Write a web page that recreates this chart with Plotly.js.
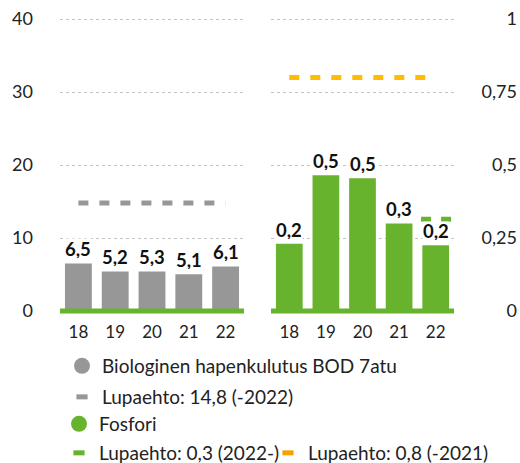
<!DOCTYPE html>
<html>
<head>
<meta charset="utf-8">
<script src="https://cdn.plot.ly/plotly-3.0.1.min.js"></script>
<style>html,body{margin:0;padding:0;background:#fff}#chart{width:520px;height:463px}</style>
</head>
<body>
<div id="chart"></div>
<script>
// ---- data ----
const years = [18, 19, 20, 21, 22];
const yearLabels = ["18", "19", "20", "21", "22"];
const bodValues = [6.5, 5.4, 5.4, 5.05, 6.1];
const bodLabels = ["6,5", "5,2", "5,3", "5,1", "6,1"];
const pValues = [0.23, 0.465, 0.455, 0.30, 0.225];
const pLabels = ["0,2", "0,5", "0,5", "0,3", "0,2"];
const bodLimitX = [18, 22];
const bodLimitY = [14.8, 14.8];
const pLimitOldX = [18, 22];
const pLimitOldY = [0.8, 0.8];
const pLimitNewX = [21.6, 22.45];
const pLimitNewY = [0.314, 0.314];
const leftTicks = [0, 10, 20, 30, 40];
const rightTicks = [0, 0.25, 0.5, 0.75, 1];
const rightTickText = ["0", "0,25", "0,5", "0,75", "1"];
const legendNames = ["Biologinen hapenkulutus BOD 7atu", "Lupaehto: 14,8 (-2022)", "Fosfori", "Lupaehto: 0,3 (2022-)", "Lupaehto: 0,8 (-2021)"];

// ---- styles ----
const GRAY = "#979797";
const GREEN = "#68B32E";
const ORANGE = "#FFBC00";
const ORANGE_LEG = "#F5A300";
const FONT = "Lato, 'Open Sans', sans-serif";
const W = 520, H = 463;

const traces = [
  {type: "bar", x: years, y: bodValues, xaxis: "x", yaxis: "y", marker: {color: GRAY}, width: 0.73, showlegend: false, hoverinfo: "skip"},
  {type: "bar", x: years, y: pValues, xaxis: "x2", yaxis: "y2", marker: {color: GREEN}, width: 0.73, showlegend: false, hoverinfo: "skip"},
  {type: "scatter", mode: "lines", x: bodLimitX, y: bodLimitY, xaxis: "x", yaxis: "y", line: {color: GRAY, width: 5, dash: "10px,11px"}, showlegend: false},
  {type: "scatter", mode: "lines", x: pLimitOldX, y: pLimitOldY, xaxis: "x2", yaxis: "y2", line: {color: ORANGE, width: 5, dash: "10px,11px"}, showlegend: false},
  {type: "scatter", mode: "lines", x: pLimitNewX, y: pLimitNewY, xaxis: "x2", yaxis: "y2", line: {color: GREEN, width: 5, dash: "10px,10px"}, showlegend: false},
  // legend entries
  {type: "scatter", mode: "markers", x: [null], y: [null], name: legendNames[0], legend: "legend", marker: {symbol: "circle", size: 16, color: GRAY}},
  {type: "scatter", mode: "markers", x: [null], y: [null], name: legendNames[1], legend: "legend2", marker: {symbol: "line-ew", size: 8, color: GRAY, line: {color: GRAY, width: 5}}},
  {type: "scatter", mode: "markers", x: [null], y: [null], name: legendNames[2], legend: "legend3", marker: {symbol: "circle", size: 16, color: GREEN}},
  {type: "scatter", mode: "markers", x: [null], y: [null], name: legendNames[3], legend: "legend4", marker: {symbol: "line-ew", size: 8, color: GREEN, line: {color: GREEN, width: 5}}},
  {type: "scatter", mode: "markers", x: [null], y: [null], name: legendNames[4], legend: "legend5", marker: {symbol: "line-ew", size: 8, color: ORANGE_LEG, line: {color: ORANGE_LEG, width: 5}}}
];

const labelFont = {family: FONT, size: 18.5, color: "#111", weight: "bold"};
const annotations = [];
years.forEach((yr, i) => {
  annotations.push({x: yr, y: bodValues[i], xref: "x", yref: "y", text: bodLabels[i], showarrow: false, yanchor: "middle", yshift: 15, bgcolor: "#fff", borderpad: 0, height: 19, valign: "middle", font: labelFont});
  annotations.push({x: yr, y: pValues[i], xref: "x2", yref: "y2", text: pLabels[i], showarrow: false, yanchor: "middle", yshift: 14, bgcolor: "#fff", borderpad: 0, height: 18, valign: "middle", font: labelFont});
});

const yDomain = [137.4 / H, 458.6 / H];
const gridStyle = {showgrid: true, gridcolor: "#c4c4c4", griddash: "dot", gridwidth: 1, zeroline: false, ticks: ""};
const legBase = {orientation: "v", xanchor: "left", yanchor: "middle", bgcolor: "rgba(0,0,0,0)", font: {family: FONT, size: 19, color: "#222"}, itemclick: false, itemdoubleclick: false};

const layout = {
  width: W, height: H,
  margin: {l: 0, r: 0, t: 0, b: 0, autoexpand: false},
  paper_bgcolor: "#fff", plot_bgcolor: "rgba(0,0,0,0)",
  font: {family: FONT, color: "#222"},
  xaxis: {domain: [60 / W, 244 / W], range: [17.5, 22.5], tickvals: years, ticktext: yearLabels, showgrid: false, zeroline: false, ticks: "", tickfont: {size: 17, color: "#222"}, ticklabelstandoff: -6, anchor: "y", fixedrange: true},
  xaxis2: {domain: [271 / W, 454 / W], range: [17.5, 22.5], tickvals: years, ticktext: yearLabels, showgrid: false, zeroline: false, ticks: "", tickfont: {size: 17, color: "#222"}, ticklabelstandoff: -6, anchor: "y2", fixedrange: true},
  yaxis: Object.assign({domain: yDomain, range: [-2, 42], tickvals: leftTicks, ticktext: leftTicks.map(String), anchor: "x", tickfont: {size: 18, color: "#222"}, ticklabelstandoff: 26, fixedrange: true}, gridStyle),
  yaxis2: Object.assign({domain: yDomain, range: [-0.05, 1.05], tickvals: rightTicks, ticktext: rightTickText, anchor: "free", position: 1, side: "right", ticklabelposition: "inside", tickfont: {size: 18, color: "#222"}, fixedrange: true}, gridStyle),
  shapes: [
    {type: "line", xref: "x", yref: "y", x0: 17.25, x1: 22.83, y0: 0, y1: 0, line: {color: GREEN, width: 5}, layer: "above"},
    {type: "line", xref: "x2", yref: "y2", x0: 17.33, x1: 22.95, y0: 0, y1: 0, line: {color: GREEN, width: 5}, layer: "above"}
  ],
  annotations: annotations,
  legend: Object.assign({x: 62 / W, y: 1 - 366 / H}, legBase),
  legend2: Object.assign({x: 62 / W, y: 1 - 397 / H}, legBase),
  legend3: Object.assign({x: 59 / W, y: 1 - 424 / H}, legBase),
  legend4: Object.assign({x: 59 / W, y: 1 - 453 / H}, legBase),
  legend5: Object.assign({x: 268 / W, y: 1 - 453 / H}, legBase)
};

Plotly.newPlot("chart", traces, layout, {displayModeBar: false, staticPlot: true});
</script>
</body>
</html>
